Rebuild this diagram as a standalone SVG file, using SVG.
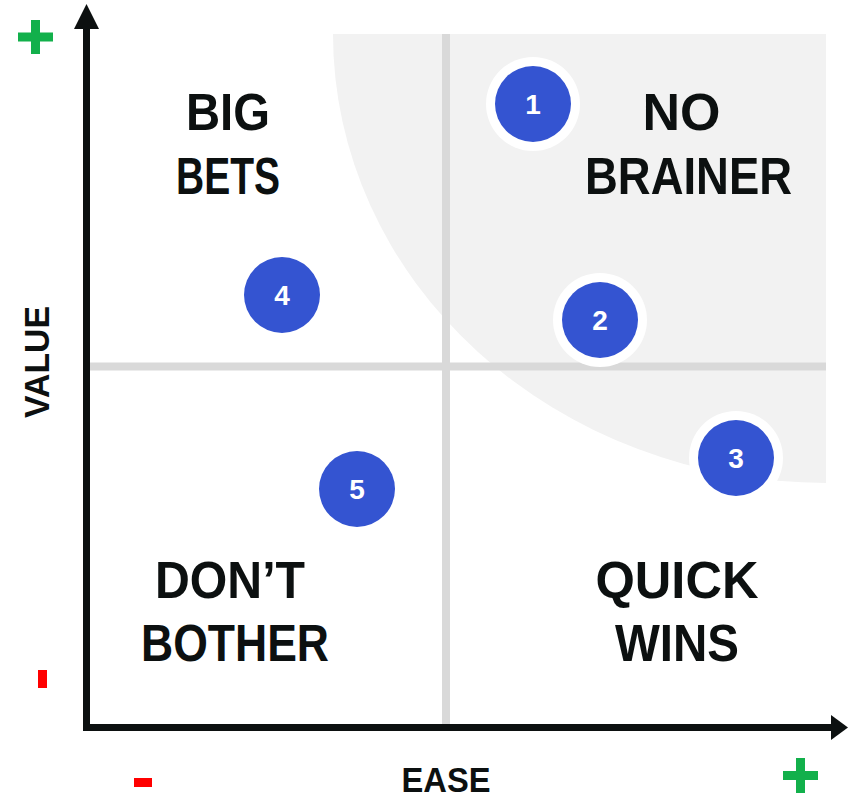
<svg xmlns="http://www.w3.org/2000/svg" width="848" height="798" viewBox="0 0 848 798">
<style>
.q{font-family:"Liberation Sans",Arial,sans-serif;font-weight:bold;font-size:51px;fill:#0c1010;text-anchor:middle}
.ax{font-family:"Liberation Sans",Arial,sans-serif;font-weight:bold;font-size:35px;fill:#0c1010;text-anchor:middle}
.num{font-family:"Liberation Sans",Arial,sans-serif;font-weight:bold;font-size:28px;fill:#ffffff;text-anchor:middle}
.ring{fill:#ffffff}
.dot{fill:#3454d1}
.grid{stroke:#d9d9d9;stroke-width:8;fill:none}
.axis{stroke:#0c1010;stroke-width:7;fill:none}
.plus{fill:#12b04b}
.minus{fill:#ff0000}
</style>
<rect width="848" height="798" fill="#ffffff"/>
<g id="shade">
<path d="M333,34 H826 V483 A493,449 0 0 1 333,34 Z" fill="#f2f2f2"/>
</g>
<g id="connectors">
<line class="grid" x1="446" y1="34" x2="446" y2="724"/>
<line class="grid" x1="90" y1="366.5" x2="826" y2="366.5"/>
<line class="axis" x1="86.5" y1="26" x2="86.5" y2="731"/>
<line class="axis" x1="83" y1="727.5" x2="834" y2="727.5"/>
<polygon points="86.5,4 74,29 99,29" fill="#0c1010"/>
<polygon points="848,727.5 831,715 831,740" fill="#0c1010"/>
</g>
<g id="signs">
<rect class="plus" x="18" y="32.5" width="35" height="9"/>
<rect class="plus" x="31" y="20" width="9" height="34"/>
<rect class="plus" x="783" y="771" width="35" height="9"/>
<rect class="plus" x="796" y="758" width="9" height="35"/>
<rect class="minus" x="38" y="670" width="9" height="18"/>
<rect class="minus" x="134" y="778" width="18" height="9"/>
</g>
<g id="axis-labels">
<text class="ax" x="446" y="792" textLength="89" lengthAdjust="spacingAndGlyphs">EASE</text>
<text class="ax" transform="translate(49,362) rotate(-90)" x="0" y="0" textLength="112" lengthAdjust="spacingAndGlyphs">VALUE</text>
</g>
<g id="big-bets">
<text class="q" x="228" y="130" textLength="84" lengthAdjust="spacingAndGlyphs">BIG</text>
<text class="q" x="228" y="194" textLength="104" lengthAdjust="spacingAndGlyphs">BETS</text>
</g>
<g id="no-brainer">
<text class="q" x="681.5" y="130" textLength="78" lengthAdjust="spacingAndGlyphs">NO</text>
<text class="q" x="688.5" y="194" textLength="207" lengthAdjust="spacingAndGlyphs">BRAINER</text>
</g>
<g id="dont-bother">
<text class="q" x="230" y="598" textLength="150" lengthAdjust="spacingAndGlyphs">DON’T</text>
<text class="q" x="235" y="661" textLength="188" lengthAdjust="spacingAndGlyphs">BOTHER</text>
</g>
<g id="quick-wins">
<text class="q" x="677" y="598" textLength="163" lengthAdjust="spacingAndGlyphs">QUICK</text>
<text class="q" x="677" y="661" textLength="124" lengthAdjust="spacingAndGlyphs">WINS</text>
</g>
<g id="item-1">
<circle class="ring" cx="533" cy="104" r="47"/>
<circle class="dot" cx="533" cy="104" r="38"/>
<text class="num" x="533" y="114">1</text>
</g>
<g id="item-2">
<circle class="ring" cx="600" cy="320" r="47"/>
<circle class="dot" cx="600" cy="320" r="38"/>
<text class="num" x="600" y="330">2</text>
</g>
<g id="item-3">
<circle class="ring" cx="736" cy="458" r="47"/>
<circle class="dot" cx="736" cy="458" r="38"/>
<text class="num" x="736" y="468">3</text>
</g>
<g id="item-4">
<circle class="ring" cx="282" cy="295" r="47"/>
<circle class="dot" cx="282" cy="295" r="38"/>
<text class="num" x="282" y="305">4</text>
</g>
<g id="item-5">
<circle class="ring" cx="357" cy="489" r="47"/>
<circle class="dot" cx="357" cy="489" r="38"/>
<text class="num" x="357" y="499">5</text>
</g>
</svg>
